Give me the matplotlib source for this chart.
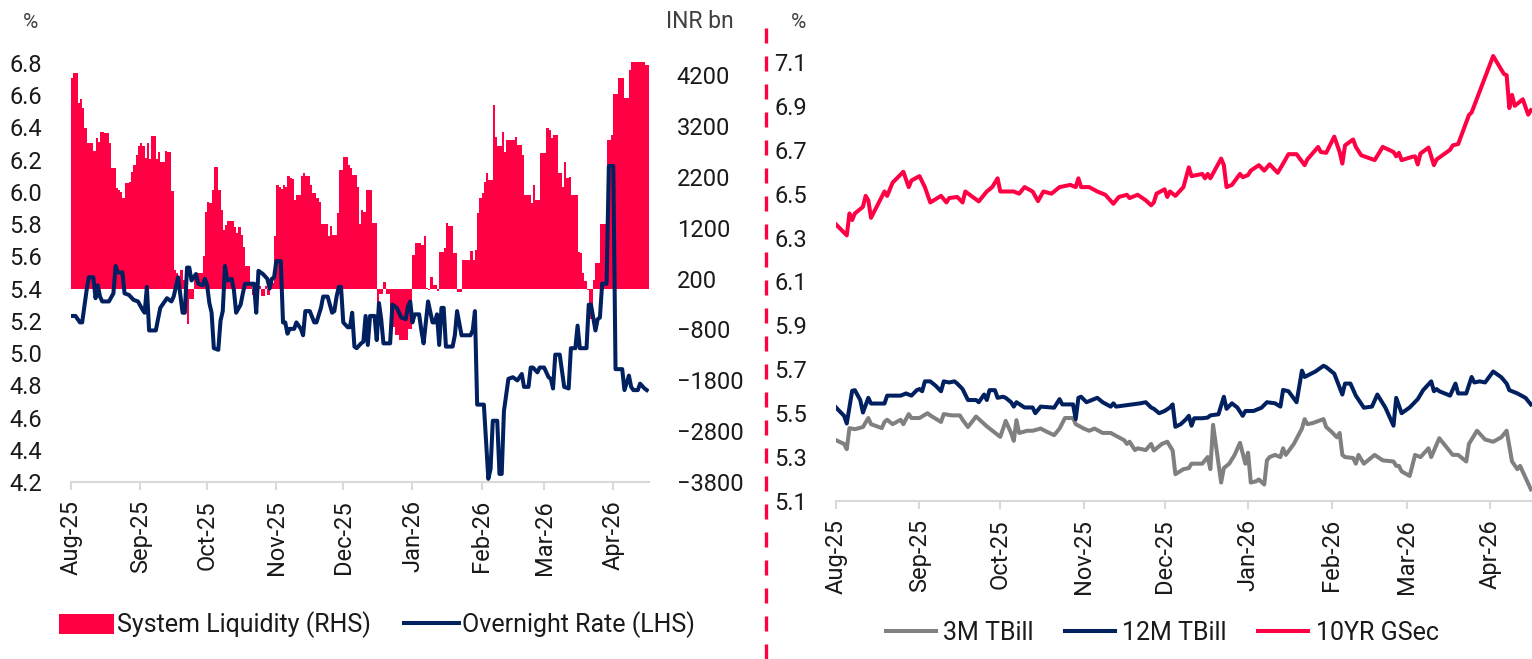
import matplotlib

matplotlib.use("Agg")
import matplotlib.dates as mdates
import matplotlib.pyplot as plt
import numpy as np
import pandas as pd
from matplotlib.lines import Line2D
from matplotlib.patches import Patch

plt.rcParams["font.family"] = ["Roboto", "DejaVu Sans"]

RED = "#FF0044"
NAVY = "#002060"
GREY = "#808080"
AXIS_GREY = "#D9D9D9"
TEXT = "#1A1A1A"

# ---- left panel: system liquidity (INR bn, RHS) and overnight rate (%, LHS)
liq_dates = [
    "2025-08-01", "2025-08-02", "2025-08-04", "2025-08-05", "2025-08-06", "2025-08-07",
    "2025-08-08", "2025-08-11", "2025-08-12", "2025-08-13", "2025-08-14", "2025-08-16",
    "2025-08-18", "2025-08-19", "2025-08-21", "2025-08-22", "2025-08-23", "2025-08-24",
    "2025-08-25", "2025-08-27", "2025-08-28", "2025-08-29", "2025-08-30", "2025-08-31",
    "2025-09-01", "2025-09-02", "2025-09-03", "2025-09-04", "2025-09-05", "2025-09-06",
    "2025-09-08", "2025-09-09", "2025-09-10", "2025-09-12", "2025-09-13", "2025-09-15",
    "2025-09-16", "2025-09-17", "2025-09-18", "2025-09-19", "2025-09-20", "2025-09-21",
    "2025-09-22", "2025-09-23", "2025-09-25", "2025-09-29", "2025-09-30", "2025-10-01",
    "2025-10-02", "2025-10-03", "2025-10-04", "2025-10-06", "2025-10-07", "2025-10-08",
    "2025-10-09", "2025-10-10", "2025-10-13", "2025-10-14", "2025-10-15", "2025-10-16",
    "2025-10-17", "2025-10-18", "2025-10-20", "2025-10-21", "2025-10-23", "2025-10-25",
    "2025-10-27", "2025-10-28", "2025-10-29", "2025-10-31", "2025-11-01", "2025-11-02",
    "2025-11-03", "2025-11-04", "2025-11-05", "2025-11-06", "2025-11-07", "2025-11-08",
    "2025-11-09", "2025-11-10", "2025-11-12", "2025-11-13", "2025-11-14", "2025-11-16",
    "2025-11-17", "2025-11-19", "2025-11-20", "2025-11-21", "2025-11-24", "2025-11-25",
    "2025-11-26", "2025-11-28", "2025-11-29", "2025-12-01", "2025-12-03", "2025-12-04",
    "2025-12-05", "2025-12-07", "2025-12-08", "2025-12-09", "2025-12-10", "2025-12-11",
    "2025-12-14", "2025-12-16", "2025-12-17", "2025-12-19", "2025-12-20", "2025-12-22",
    "2025-12-24", "2025-12-26", "2025-12-30", "2026-01-01", "2026-01-02", "2026-01-05",
    "2026-01-06", "2026-01-07", "2026-01-08", "2026-01-09", "2026-01-10", "2026-01-12",
    "2026-01-13", "2026-01-15", "2026-01-16", "2026-01-17", "2026-01-19", "2026-01-21",
    "2026-01-23", "2026-01-27", "2026-01-28", "2026-01-29", "2026-01-30", "2026-01-31",
    "2026-02-01", "2026-02-02", "2026-02-03", "2026-02-04", "2026-02-06", "2026-02-07",
    "2026-02-08", "2026-02-10", "2026-02-11", "2026-02-12", "2026-02-13", "2026-02-16",
    "2026-02-17", "2026-02-19", "2026-02-20", "2026-02-23", "2026-02-24", "2026-02-25",
    "2026-02-27", "2026-03-02", "2026-03-03", "2026-03-04", "2026-03-05", "2026-03-07",
    "2026-03-09", "2026-03-10", "2026-03-11", "2026-03-12", "2026-03-13", "2026-03-16",
    "2026-03-17", "2026-03-18", "2026-03-19", "2026-03-20", "2026-03-21", "2026-03-23",
    "2026-03-24", "2026-03-26", "2026-03-29", "2026-03-31", "2026-04-01", "2026-04-03",
    "2026-04-06", "2026-04-08", "2026-04-09", "2026-04-15",
]
liq_values = [
    4150, 4240, 3650, 3730, 3550, 3160,
    2870, 2720, 2970, 2890, 3080, 3060,
    2870, 2370, 1980, 1950, 1910, 1780,
    2080, 2110, 2300, 2440, 2630, 2800,
    2875, 2810, 2570, 2870, 2550, 3010,
    2550, 2700, 2500, 2720, 2700, 1930,
    370, 310, 240, 370, 180, -300,
    -700, -200, 310, 640, 1520, 1715,
    1695, 1945, 2400, 1945, 1550, 1160,
    1260, 1340, 1220, 1090, 1210, 1060,
    820, 450, 100, -120, 50, -150,
    60, -130, 120, 1040, 2040, 2000,
    1960, 2040, 2010, 2210, 2170, 2160,
    1750, 1850, 2210, 2270, 2210, 2040,
    1880, 1780, 1715, 1280, 1030, 1240,
    1060, 1490, 2340, 2600, 2440, 2370,
    2240, 2010, 1280, 1550, 1520, 1950,
    1300, -500, -100, 140, -100, -750,
    -900, -1000, -800, 670, 900, 860,
    1030, 20, -30, 240, 80, -40,
    730, 800, 1290, 1240, 700, -60,
    570, 750, 570, 760, 1490, 1780,
    1890, 2110, 2270, 2140, 3610, 2990,
    2800, 3090, 2700, 2930, 2920, 2990,
    2830, 2630, 1850, 1690, 2040, 1750,
    2670, 3160, 3130, 2970, 3030, 2270,
    2010, 2500, 2170, 2200, 1850, 730,
    710, 310, 150, -20, -600, 180,
    500, 1280, 2930, 3030, 3840, 4140,
    3750, 4300, 4470, 4400,
]
liq_end = "2026-04-17"

on_dates = [
    "2025-08-01", "2025-08-03", "2025-08-05", "2025-08-06", "2025-08-08", "2025-08-09",
    "2025-08-11", "2025-08-12", "2025-08-13", "2025-08-14", "2025-08-15", "2025-08-18",
    "2025-08-20", "2025-08-21", "2025-08-22", "2025-08-24", "2025-08-25", "2025-08-27",
    "2025-08-29", "2025-08-31", "2025-09-02", "2025-09-03", "2025-09-04", "2025-09-05",
    "2025-09-08", "2025-09-10", "2025-09-11", "2025-09-13", "2025-09-15", "2025-09-16",
    "2025-09-18", "2025-09-20", "2025-09-21", "2025-09-22", "2025-09-23", "2025-09-24",
    "2025-09-26", "2025-09-27", "2025-09-29", "2025-09-30", "2025-10-01", "2025-10-02",
    "2025-10-03", "2025-10-04", "2025-10-06", "2025-10-07", "2025-10-08", "2025-10-09",
    "2025-10-10", "2025-10-12", "2025-10-13", "2025-10-14", "2025-10-16", "2025-10-17",
    "2025-10-18", "2025-10-22", "2025-10-23", "2025-10-24", "2025-10-26", "2025-10-28",
    "2025-10-29", "2025-10-30", "2025-10-31", "2025-11-01", "2025-11-03", "2025-11-04",
    "2025-11-05", "2025-11-06", "2025-11-07", "2025-11-09", "2025-11-10", "2025-11-12",
    "2025-11-13", "2025-11-14", "2025-11-16", "2025-11-18", "2025-11-19", "2025-11-21",
    "2025-11-22", "2025-11-24", "2025-11-26", "2025-11-27", "2025-11-28", "2025-11-29",
    "2025-11-30", "2025-12-01", "2025-12-03", "2025-12-04", "2025-12-05", "2025-12-06",
    "2025-12-07", "2025-12-09", "2025-12-10", "2025-12-11", "2025-12-12", "2025-12-13",
    "2025-12-15", "2025-12-16", "2025-12-17", "2025-12-18", "2025-12-19", "2025-12-22",
    "2025-12-23", "2025-12-25", "2025-12-27", "2025-12-29", "2025-12-30", "2025-12-31",
    "2026-01-01", "2026-01-02", "2026-01-04", "2026-01-05", "2026-01-06", "2026-01-07",
    "2026-01-08", "2026-01-10", "2026-01-11", "2026-01-12", "2026-01-13", "2026-01-14",
    "2026-01-15", "2026-01-16", "2026-01-19", "2026-01-20", "2026-01-21", "2026-01-23",
    "2026-01-27", "2026-01-28", "2026-01-29", "2026-01-30", "2026-02-02", "2026-02-04",
    "2026-02-05", "2026-02-06", "2026-02-08", "2026-02-09", "2026-02-10", "2026-02-11",
    "2026-02-13", "2026-02-15", "2026-02-17", "2026-02-19", "2026-02-20", "2026-02-22",
    "2026-02-23", "2026-02-24", "2026-02-26", "2026-02-27", "2026-03-01", "2026-03-03",
    "2026-03-04", "2026-03-05", "2026-03-06", "2026-03-08", "2026-03-10", "2026-03-12",
    "2026-03-13", "2026-03-15", "2026-03-16", "2026-03-17", "2026-03-20", "2026-03-21",
    "2026-03-22", "2026-03-24", "2026-03-25", "2026-03-26", "2026-03-27", "2026-03-29",
    "2026-03-30", "2026-04-01", "2026-04-02", "2026-04-05", "2026-04-06", "2026-04-08",
    "2026-04-09", "2026-04-10", "2026-04-12", "2026-04-13", "2026-04-15", "2026-04-16",
]
on_values = [
    5.23, 5.23, 5.19, 5.19, 5.39, 5.47,
    5.47, 5.34, 5.42, 5.35, 5.32, 5.32,
    5.37, 5.54, 5.50, 5.50, 5.37, 5.36,
    5.33, 5.32, 5.27, 5.25, 5.41, 5.14,
    5.14, 5.28, 5.30, 5.34, 5.32, 5.35,
    5.47, 5.25, 5.25, 5.53, 5.53, 5.45,
    5.49, 5.43, 5.42, 5.46, 5.42, 5.31,
    5.25, 5.03, 5.02, 5.20, 5.26, 5.54,
    5.45, 5.46, 5.39, 5.25, 5.30, 5.37,
    5.43, 5.43, 5.25, 5.51, 5.49, 5.46,
    5.40, 5.46, 5.47, 5.57, 5.57, 5.19,
    5.19, 5.12, 5.15, 5.15, 5.19, 5.15,
    5.11, 5.26, 5.26, 5.19, 5.19, 5.28,
    5.35, 5.35, 5.25, 5.26, 5.35, 5.41,
    5.41, 5.19, 5.16, 5.16, 5.25, 5.04,
    5.03, 5.06, 5.07, 5.23, 5.05, 5.23,
    5.23, 5.08, 5.31, 5.21, 5.06, 5.06,
    5.30, 5.28, 5.22, 5.21, 5.29, 5.32,
    5.19, 5.24, 5.24, 5.14, 5.06, 5.19,
    5.32, 5.19, 5.19, 5.24, 5.05, 5.28,
    5.28, 5.04, 5.04, 5.11, 5.26, 5.11,
    5.11, 5.14, 5.26, 4.68, 4.68, 4.22,
    4.28, 4.58, 4.58, 4.25, 4.25, 4.64,
    4.84, 4.85, 4.83, 4.87, 4.79, 4.79,
    4.91, 4.91, 4.88, 4.91, 4.91, 4.85,
    4.84, 4.78, 4.99, 4.99, 4.79, 4.78,
    5.03, 5.03, 5.17, 5.03, 5.03, 5.30,
    5.30, 5.14, 5.21, 5.22, 5.43, 5.43,
    6.16, 6.16, 4.90, 4.90, 4.77, 4.86,
    4.79, 4.77, 4.77, 4.81, 4.78, 4.77,
]

# ---- right panel: bill and bond yields (%)
t3m_dates = [
    "2025-08-01", "2025-08-04", "2025-08-05", "2025-08-06", "2025-08-08", "2025-08-11",
    "2025-08-13", "2025-08-14", "2025-08-18", "2025-08-19", "2025-08-20", "2025-08-22",
    "2025-08-25", "2025-08-26", "2025-08-28", "2025-08-29", "2025-09-01", "2025-09-04",
    "2025-09-05", "2025-09-09", "2025-09-10", "2025-09-13", "2025-09-16", "2025-09-17",
    "2025-09-19", "2025-09-22", "2025-09-26", "2025-10-01", "2025-10-03", "2025-10-05",
    "2025-10-06", "2025-10-07", "2025-10-08", "2025-10-11", "2025-10-13", "2025-10-16",
    "2025-10-18", "2025-10-21", "2025-10-23", "2025-10-25", "2025-10-28", "2025-10-29",
    "2025-11-01", "2025-11-03", "2025-11-05", "2025-11-08", "2025-11-11", "2025-11-14",
    "2025-11-16", "2025-11-17", "2025-11-18", "2025-11-20", "2025-11-21", "2025-11-24",
    "2025-11-26", "2025-11-27", "2025-11-28", "2025-11-30", "2025-12-02", "2025-12-04",
    "2025-12-05", "2025-12-08", "2025-12-10", "2025-12-11", "2025-12-15", "2025-12-17",
    "2025-12-18", "2025-12-19", "2025-12-22", "2025-12-23", "2025-12-25", "2025-12-27",
    "2025-12-29", "2025-12-31", "2026-01-01", "2026-01-02", "2026-01-04", "2026-01-05",
    "2026-01-07", "2026-01-08", "2026-01-09", "2026-01-11", "2026-01-13", "2026-01-14",
    "2026-01-15", "2026-01-18", "2026-01-21", "2026-01-22", "2026-01-23", "2026-01-25",
    "2026-01-29", "2026-01-30", "2026-02-01", "2026-02-03", "2026-02-04", "2026-02-05",
    "2026-02-06", "2026-02-09", "2026-02-10", "2026-02-11", "2026-02-13", "2026-02-17",
    "2026-02-20", "2026-02-24", "2026-02-25", "2026-02-26", "2026-02-27", "2026-03-02",
    "2026-03-04", "2026-03-06", "2026-03-09", "2026-03-10", "2026-03-13", "2026-03-16",
    "2026-03-18", "2026-03-20", "2026-03-23", "2026-03-24", "2026-03-27", "2026-03-30",
    "2026-04-02", "2026-04-05", "2026-04-07", "2026-04-09", "2026-04-11", "2026-04-12",
    "2026-04-16",
]
t3m_values = [
    5.377, 5.36, 5.336, 5.432, 5.427, 5.437,
    5.478, 5.45, 5.432, 5.46, 5.47, 5.45,
    5.47, 5.45, 5.496, 5.478, 5.478, 5.50,
    5.49, 5.46, 5.496, 5.49, 5.49, 5.47,
    5.437, 5.485, 5.44, 5.392, 5.465, 5.41,
    5.374, 5.468, 5.41, 5.42, 5.42, 5.43,
    5.417, 5.40, 5.43, 5.478, 5.478, 5.45,
    5.43, 5.42, 5.43, 5.41, 5.41, 5.39,
    5.377, 5.36, 5.37, 5.332, 5.34, 5.332,
    5.36, 5.33, 5.34, 5.36, 5.37, 5.33,
    5.222, 5.245, 5.25, 5.27, 5.27, 5.30,
    5.245, 5.447, 5.184, 5.25, 5.27, 5.31,
    5.365, 5.27, 5.32, 5.184, 5.19, 5.198,
    5.175, 5.285, 5.30, 5.31, 5.30, 5.34,
    5.31, 5.36, 5.43, 5.473, 5.45, 5.455,
    5.473, 5.437, 5.415, 5.39, 5.41, 5.31,
    5.30, 5.296, 5.27, 5.31, 5.27, 5.31,
    5.285, 5.28, 5.26, 5.26, 5.235, 5.214,
    5.31, 5.30, 5.34, 5.30, 5.386, 5.34,
    5.31, 5.31, 5.28, 5.36, 5.42, 5.38,
    5.37, 5.39, 5.42, 5.28, 5.245, 5.26,
    5.153,
]

t12m_dates = [
    "2025-08-01", "2025-08-04", "2025-08-05", "2025-08-07", "2025-08-08", "2025-08-10",
    "2025-08-11", "2025-08-13", "2025-08-14", "2025-08-19", "2025-08-20", "2025-08-25",
    "2025-08-27", "2025-08-29", "2025-08-31", "2025-09-01", "2025-09-02", "2025-09-03",
    "2025-09-05", "2025-09-07", "2025-09-09", "2025-09-10", "2025-09-12", "2025-09-14",
    "2025-09-15", "2025-09-17", "2025-09-19", "2025-09-22", "2025-09-23", "2025-09-25",
    "2025-09-26", "2025-09-27", "2025-09-29", "2025-09-30", "2025-10-02", "2025-10-03",
    "2025-10-05", "2025-10-06", "2025-10-07", "2025-10-10", "2025-10-13", "2025-10-14",
    "2025-10-16", "2025-10-21", "2025-10-23", "2025-10-24", "2025-10-28", "2025-10-29",
    "2025-10-30", "2025-10-31", "2025-11-02", "2025-11-04", "2025-11-06", "2025-11-08",
    "2025-11-11", "2025-11-12", "2025-11-13", "2025-11-19", "2025-11-22", "2025-11-24",
    "2025-11-26", "2025-11-27", "2025-11-29", "2025-12-01", "2025-12-03", "2025-12-04",
    "2025-12-05", "2025-12-07", "2025-12-09", "2025-12-10", "2025-12-11", "2025-12-12",
    "2025-12-15", "2025-12-17", "2025-12-18", "2025-12-21", "2025-12-23", "2025-12-24",
    "2025-12-26", "2025-12-28", "2025-12-30", "2025-12-31", "2026-01-03", "2026-01-06",
    "2026-01-08", "2026-01-11", "2026-01-13", "2026-01-14", "2026-01-16", "2026-01-19",
    "2026-01-21", "2026-01-22", "2026-01-26", "2026-01-29", "2026-01-30", "2026-02-02",
    "2026-02-05", "2026-02-06", "2026-02-08", "2026-02-10", "2026-02-13", "2026-02-16",
    "2026-02-18", "2026-02-21", "2026-02-24", "2026-02-25", "2026-02-27", "2026-03-02",
    "2026-03-05", "2026-03-07", "2026-03-10", "2026-03-11", "2026-03-12", "2026-03-13",
    "2026-03-17", "2026-03-19", "2026-03-20", "2026-03-23", "2026-03-25", "2026-03-26",
    "2026-03-28", "2026-03-30", "2026-04-02", "2026-04-05", "2026-04-07", "2026-04-08",
    "2026-04-11", "2026-04-14", "2026-04-16",
]
t12m_values = [
    5.526, 5.488, 5.453, 5.602, 5.605, 5.56,
    5.503, 5.57, 5.544, 5.544, 5.58, 5.58,
    5.59, 5.58, 5.605, 5.61, 5.60, 5.645,
    5.645, 5.625, 5.60, 5.645, 5.64, 5.645,
    5.635, 5.61, 5.56, 5.56, 5.55, 5.585,
    5.56, 5.605, 5.605, 5.57, 5.575, 5.57,
    5.55, 5.53, 5.55, 5.526, 5.526, 5.50,
    5.53, 5.525, 5.564, 5.54, 5.54, 5.473,
    5.57, 5.575, 5.55, 5.56, 5.57, 5.55,
    5.53, 5.545, 5.53, 5.54, 5.545, 5.55,
    5.526, 5.52, 5.50, 5.51, 5.526, 5.54,
    5.438, 5.45, 5.473, 5.488, 5.443, 5.477,
    5.477, 5.48, 5.49, 5.495, 5.575, 5.52,
    5.545, 5.526, 5.488, 5.51, 5.51, 5.525,
    5.55, 5.545, 5.53, 5.606, 5.60, 5.55,
    5.694, 5.665, 5.69, 5.716, 5.71, 5.68,
    5.585, 5.635, 5.635, 5.58, 5.525, 5.53,
    5.585, 5.525, 5.443, 5.57, 5.50, 5.526,
    5.564, 5.605, 5.645, 5.60, 5.61, 5.60,
    5.58, 5.635, 5.59, 5.59, 5.665, 5.64,
    5.645, 5.64, 5.69, 5.664, 5.635, 5.605,
    5.59, 5.57, 5.54,
]

g10y_dates = [
    "2025-08-01", "2025-08-05", "2025-08-06", "2025-08-07", "2025-08-08", "2025-08-11",
    "2025-08-12", "2025-08-13", "2025-08-14", "2025-08-19", "2025-08-20", "2025-08-22",
    "2025-08-26", "2025-08-28", "2025-08-29", "2025-09-01", "2025-09-03", "2025-09-05",
    "2025-09-09", "2025-09-11", "2025-09-12", "2025-09-15", "2025-09-17", "2025-09-18",
    "2025-09-23", "2025-09-26", "2025-09-28", "2025-09-30", "2025-10-01", "2025-10-06",
    "2025-10-08", "2025-10-10", "2025-10-13", "2025-10-15", "2025-10-17", "2025-10-20",
    "2025-10-23", "2025-10-27", "2025-10-29", "2025-10-30", "2025-10-31", "2025-11-03",
    "2025-11-06", "2025-11-09", "2025-11-12", "2025-11-14", "2025-11-17", "2025-11-18",
    "2025-11-21", "2025-11-24", "2025-11-26", "2025-11-27", "2025-11-28", "2025-12-01",
    "2025-12-02", "2025-12-03", "2025-12-05", "2025-12-08", "2025-12-10", "2025-12-11",
    "2025-12-15", "2025-12-16", "2025-12-17", "2025-12-18", "2025-12-22", "2025-12-23",
    "2025-12-24", "2025-12-26", "2025-12-29", "2025-12-30", "2026-01-01", "2026-01-02",
    "2026-01-05", "2026-01-07", "2026-01-09", "2026-01-12", "2026-01-14", "2026-01-16",
    "2026-01-19", "2026-01-22", "2026-01-23", "2026-01-27", "2026-01-28", "2026-01-30",
    "2026-02-02", "2026-02-04", "2026-02-05", "2026-02-06", "2026-02-09", "2026-02-10",
    "2026-02-12", "2026-02-17", "2026-02-20", "2026-02-24", "2026-02-25", "2026-02-26",
    "2026-02-27", "2026-03-03", "2026-03-04", "2026-03-05", "2026-03-06", "2026-03-09",
    "2026-03-11", "2026-03-12", "2026-03-17", "2026-03-18", "2026-03-20", "2026-03-24",
    "2026-03-25", "2026-04-02", "2026-04-06", "2026-04-07", "2026-04-08", "2026-04-09",
    "2026-04-10", "2026-04-13", "2026-04-15", "2026-04-16",
]
g10y_values = [
    6.36, 6.31, 6.41, 6.38, 6.41, 6.44,
    6.49, 6.47, 6.39, 6.51, 6.49, 6.55,
    6.60, 6.53, 6.56, 6.58, 6.53, 6.46,
    6.49, 6.46, 6.48, 6.485, 6.46, 6.51,
    6.465, 6.51, 6.53, 6.57, 6.51, 6.51,
    6.50, 6.53, 6.51, 6.466, 6.51, 6.50,
    6.53, 6.54, 6.53, 6.57, 6.53, 6.53,
    6.51, 6.495, 6.454, 6.485, 6.495, 6.48,
    6.495, 6.47, 6.447, 6.46, 6.50, 6.52,
    6.485, 6.51, 6.49, 6.53, 6.62, 6.58,
    6.59, 6.57, 6.59, 6.57, 6.66, 6.63,
    6.53, 6.54, 6.59, 6.575, 6.585, 6.605,
    6.63, 6.605, 6.634, 6.595, 6.637, 6.68,
    6.68, 6.63, 6.656, 6.713, 6.69, 6.686,
    6.76, 6.69, 6.637, 6.72, 6.747, 6.713,
    6.675, 6.653, 6.713, 6.69, 6.67, 6.686,
    6.653, 6.668, 6.67, 6.633, 6.683, 6.71,
    6.63, 6.656, 6.70, 6.72, 6.726, 6.858,
    6.87, 7.127, 7.045, 7.04, 6.89, 6.95,
    6.90, 6.93, 6.86, 6.88,
]

left_ticks = np.round(np.arange(4.2, 6.81, 0.2), 1)
liq_ticks = np.arange(-3800, 4201, 1000)
right_ticks = np.round(np.arange(5.1, 7.11, 0.2), 1)

TICK_FS = 17
LEG_FS = 18
LW = 2.9


def style_dates(ax):
    ax.xaxis.set_major_locator(mdates.MonthLocator())
    ax.xaxis.set_major_formatter(mdates.DateFormatter("%b-%y"))
    ax.tick_params(axis="x", which="major", length=6, width=1.5, color=AXIS_GREY,
                   labelsize=TICK_FS, labelcolor=TEXT, pad=7, labelrotation=90)
    for sp in ("top", "left", "right"):
        ax.spines[sp].set_visible(False)
    ax.spines["bottom"].set_color(AXIS_GREY)
    ax.spines["bottom"].set_linewidth(1.5)


fig = plt.figure(figsize=(15.32, 6.59), dpi=100, facecolor="white")

# left panel: bars on the base axes (ticks on the right), rate line on a twin
ax_liq = fig.add_axes([71 / 1532, 1 - 482 / 659, 578 / 1532, 424 / 659])
ax_on = ax_liq.twinx()

liq_x = pd.to_datetime(liq_dates + [liq_end])
liq_y = np.append(liq_values, liq_values[-1])
ax_liq.fill_between(liq_x, 0, liq_y, step="post", color=RED, linewidth=0)
ax_liq.set_ylim(-3800, 4540)
ax_liq.set_yticks(liq_ticks)
ax_liq.yaxis.tick_right()
ax_liq.tick_params(axis="y", length=0, labelsize=TICK_FS, labelcolor=TEXT, pad=20)
ax_liq.set_xlim(pd.Timestamp("2025-08-01"), pd.Timestamp(liq_end))
style_dates(ax_liq)

ax_on.plot(pd.to_datetime(on_dates), on_values, color=NAVY, linewidth=LW,
           solid_joinstyle="round")
ax_on.set_ylim(4.2, 6.83)
ax_on.set_yticks(left_ticks)
ax_on.set_yticklabels([f"{v:.1f}" for v in left_ticks])
ax_on.yaxis.tick_left()
ax_on.tick_params(axis="y", length=0, labelsize=TICK_FS, labelcolor=TEXT, pad=21)
for sp in ax_on.spines.values():
    sp.set_visible(False)

fig.text(30 / 1532, 1 - 23 / 659, "%", ha="center", va="center", fontsize=15, color="#404040")
fig.text(700 / 1532, 1 - 22 / 659, "INR bn", ha="center", va="center", fontsize=16.5,
         color="#404040")

fig.legend(
    handles=[Patch(facecolor=RED, edgecolor="none"), Line2D([], [], color=NAVY, lw=LW)],
    labels=["System Liquidity (RHS)", "Overnight Rate (LHS)"],
    loc="center", bbox_to_anchor=(377 / 1532, 1 - 625 / 659), ncol=2, frameon=False,
    fontsize=LEG_FS, handlelength=2.2, handleheight=0.85, handletextpad=0.12,
    columnspacing=1.3, labelcolor=TEXT,
)

# right panel: yields
ax_r = fig.add_axes([836 / 1532, 1 - 501 / 659, 696 / 1532, 450 / 659])
ax_r.plot(pd.to_datetime(t3m_dates), t3m_values, color=GREY, linewidth=LW)
ax_r.plot(pd.to_datetime(t12m_dates), t12m_values, color=NAVY, linewidth=LW)
ax_r.plot(pd.to_datetime(g10y_dates), g10y_values, color=RED, linewidth=LW)
ax_r.set_ylim(5.1, 7.15)
ax_r.set_yticks(right_ticks)
ax_r.set_yticklabels([f"{v:.1f}" for v in right_ticks])
ax_r.tick_params(axis="y", length=0, labelsize=TICK_FS, labelcolor=TEXT, pad=21)
ax_r.set_xlim(pd.Timestamp("2025-08-01"), pd.Timestamp("2026-04-16 10:00"))
style_dates(ax_r)

fig.text(799 / 1532, 1 - 22 / 659, "%", ha="center", va="center", fontsize=15, color="#404040")

fig.legend(
    handles=[Line2D([], [], color=c, lw=LW) for c in (GREY, NAVY, RED)],
    labels=["3M TBill", "12M TBill", "10YR GSec"],
    loc="center", bbox_to_anchor=(1162 / 1532, 1 - 633 / 659), ncol=3, frameon=False,
    fontsize=LEG_FS, handlelength=2.0, handletextpad=0.3, columnspacing=1.25, labelcolor=TEXT,
)

# dashed separator between the panels
fig.add_artist(Line2D([766 / 1532, 766 / 1532], [1 - 28 / 659, 0], transform=fig.transFigure,
                      color=RED, linewidth=2.4, linestyle=(0, (4.5, 3.9))))

fig.savefig("out.png", dpi=100, facecolor="white")
